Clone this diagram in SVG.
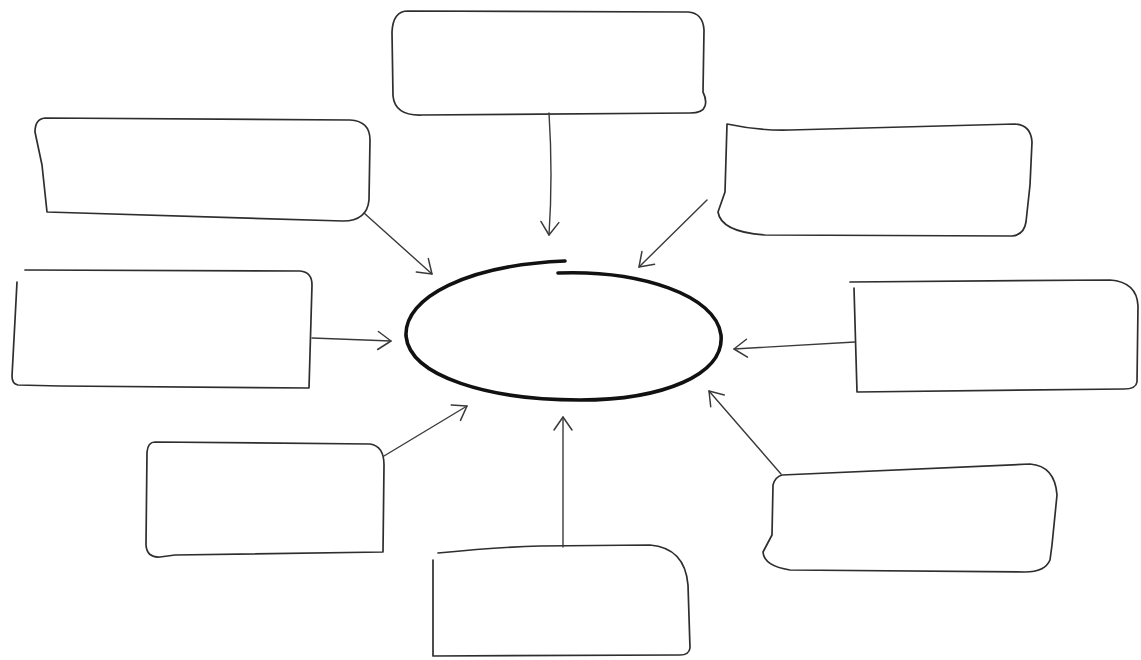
<svg xmlns="http://www.w3.org/2000/svg" width="1141" height="660" viewBox="0 0 1141 660">
<style>
.box{fill:none;stroke:#2e2e2e;stroke-width:1.7;stroke-linejoin:round;stroke-linecap:round}
.edge{fill:none;stroke:#3a3a3a;stroke-width:1.4;stroke-linecap:round}
.hub{fill:none;stroke:#111;stroke-width:3.6;stroke-linecap:round}
</style>
<defs>
<marker id="ah" markerUnits="userSpaceOnUse" viewBox="-16 -10 18 20" refX="0" refY="0" markerWidth="18" markerHeight="20" orient="auto" overflow="visible">
<path d="M -13,-9 L 0,0 L -13,9" fill="none" stroke="#3a3a3a" stroke-width="1.5" stroke-linecap="round" stroke-linejoin="round"/>
</marker>
</defs>
<rect width="1141" height="660" fill="#fff"/>
<g id="center">
<path class="hub" d="M 558,273 C 640,270 716,295 721,335 C 725,375 662,400 580,400 C 490,400 410,377 406,336 C 404,297 468,265 565,261"/>
</g>
<g id="box-top">
<path class="box" d="M 408,11 L 688,12 Q 703,13 704,30 L 703,92 Q 707,100 705,106 Q 703,113 690,113 L 422,115 Q 395,116 393,96 L 392,32 Q 393,11 408,11 Z"/>
</g>
<g id="box-top-left">
<path class="box" d="M 45,118 L 350,120 Q 370,121 370,140 L 369,200 Q 367,221 343,221 L 47,212 L 42,165 L 35,132 Q 35,119 45,118 Z"/>
</g>
<g id="box-left">
<path class="box" d="M 25,270 L 300,271 Q 312,272 312,285 L 309,388 L 60,386 L 18,385 Q 12,384 12,376 L 15,320 L 17,282"/>
</g>
<g id="box-top-right">
<path class="box" d="M 727,124 Q 760,131 790,130 L 1015,124 Q 1031,125 1032,142 L 1030,185 L 1026,222 Q 1024,235 1012,236 L 765,235 Q 721,232 718,212 L 725,192 L 727,124 Z"/>
</g>
<g id="box-right">
<path class="box" d="M 850,282 L 1110,280 Q 1137,282 1138,306 L 1137,382 Q 1136,389 1124,389 L 857,392 L 854,288"/>
</g>
<g id="box-bottom-left">
<path class="box" d="M 155,442 L 370,444 Q 384,446 384,465 L 383,552 L 175,555 L 160,557 Q 147,558 146,545 L 147,452 Q 148,442 155,442 Z"/>
</g>
<g id="box-bottom">
<path class="box" d="M 438,553 Q 500,547 540,546 L 650,545 Q 685,548 688,585 L 690,648 Q 689,655 680,655 L 433,656 L 433,560"/>
</g>
<g id="box-bottom-right">
<path class="box" d="M 782,475 L 1030,464 Q 1055,466 1057,495 L 1052,545 L 1050,560 Q 1045,572 1025,572 L 790,570 Q 764,566 763,552 L 772,535 L 773,485 Q 775,477 782,475 Z"/>
</g>
<g id="connectors">
<path class="edge" marker-end="url(#ah)" d="M 549,113 Q 553,175 549,235"/>
<path class="edge" marker-end="url(#ah)" d="M 364,213 L 432,274"/>
<path class="edge" marker-end="url(#ah)" d="M 312,338 L 391,341"/>
<path class="edge" marker-end="url(#ah)" d="M 707,200 L 639,267"/>
<path class="edge" marker-end="url(#ah)" d="M 855,342 L 734,349"/>
<path class="edge" marker-end="url(#ah)" d="M 781,474 L 709,391"/>
<path class="edge" marker-end="url(#ah)" d="M 563,547 L 563,417"/>
<path class="edge" marker-end="url(#ah)" d="M 384,456 L 467,406"/>
</g>
</svg>
